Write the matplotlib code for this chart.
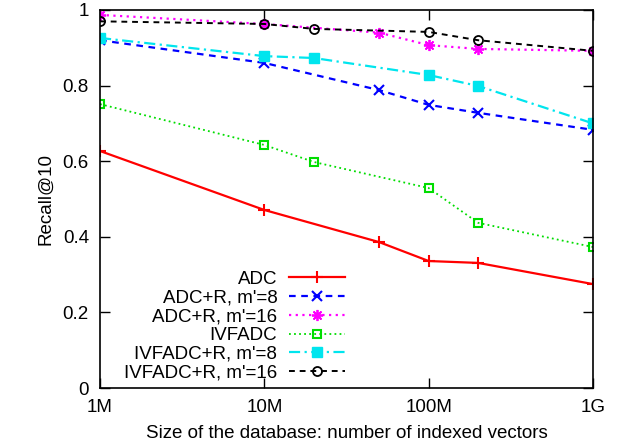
import matplotlib
matplotlib.use("Agg")
import matplotlib.pyplot as plt

plt.rcParams['font.family'] = ['Liberation Sans', 'DejaVu Sans']

# database sizes
x_adc = [1e6, 1e7, 5e7, 1e8, 2e8, 1e9]
x_ivf = [1e6, 1e7, 2e7, 1e8, 2e8, 1e9]

adc = [0.627, 0.471, 0.386, 0.336, 0.331, 0.275]
adc_r8 = [0.920, 0.860, 0.788, 0.749, 0.728, 0.683]
adc_r16 = [0.987, 0.963, 0.940, 0.907, 0.897, 0.892]
ivfadc = [0.751, 0.643, 0.598, 0.529, 0.437, 0.373]
ivfadc_r8 = [0.926, 0.878, 0.873, 0.828, 0.799, 0.700]
ivfadc_r16 = [0.970, 0.963, 0.950, 0.942, 0.920, 0.892]

xticks = [1e6, 1e7, 1e8, 1e9]
xticklabels = ['1M', '10M', '100M', '1G']
yticks = [0, 0.2, 0.4, 0.6, 0.8, 1]
yticklabels = ['0', '0.2', '0.4', '0.6', '0.8', '1']

fs = 13.5

fig = plt.figure(figsize=(6.19, 4.44), dpi=100)
ax = fig.add_axes([0.1616, 0.126, 0.7964, 0.8515])

ax.plot(x_adc, adc, color='#ff0000', lw=1.6, marker='+', ms=8, mew=1.5,
        label='ADC')
ax.plot(x_adc, adc_r8, color='#0000ff', lw=1.6, ls=(0, (3, 2.5)), marker='x',
        ms=6.5, mew=1.5, label="ADC+R, m'=8")
ax.plot(x_adc, adc_r16, color='#ff00ff', lw=1.6,
        ls=(0, (1, 2)), marker=(8, 2, 0), ms=8, mew=1.3,
        label="ADC+R, m'=16")
ax.plot(x_ivf, ivfadc, color='#00dd00', lw=1.3, ls=(0, (1, 1.8)), marker='s',
        ms=6, mew=1.5, fillstyle='none', label='IVFADC')
ax.plot(x_ivf, ivfadc_r8, color='#00e5ee', lw=1.6, ls=(0, (5, 2, 1, 2)),
        marker='s', ms=6.5, mew=1, label="IVFADC+R, m'=8")
ax.plot(x_ivf, ivfadc_r16, color='black', lw=1.4, ls=(0, (3, 2.5)),
        marker='o', ms=6.5, mew=1.3, fillstyle='none',
        label="IVFADC+R, m'=16")

ax.set_xscale('log')
ax.set_xlim(1e6, 1e9)
ax.set_ylim(0, 1)
ax.set_xticks(xticks)
ax.set_xticklabels(xticklabels)
ax.minorticks_off()
ax.set_yticks(yticks)
ax.set_yticklabels(yticklabels)
ax.tick_params(direction='in', top=True, right=True, length=7, width=1,
               labelsize=fs, pad=8)
for s in ax.spines.values():
    s.set_linewidth(1.2)

ax.set_xlabel('Size of the database: number of indexed vectors', fontsize=fs,
              labelpad=6)
ax.set_ylabel('Recall@10', fontsize=fs, labelpad=6)

leg = ax.legend(loc='lower left', bbox_to_anchor=(0.022, -0.018),
                frameon=False, markerfirst=False, fontsize=fs,
                handlelength=3.0, labelspacing=0.09, handletextpad=0.6,
                borderaxespad=0.3)
for t in leg.get_texts():
    t.set_ha('right')
leg._legend_box.align = 'right'

fig.savefig('out.png', dpi=100)
